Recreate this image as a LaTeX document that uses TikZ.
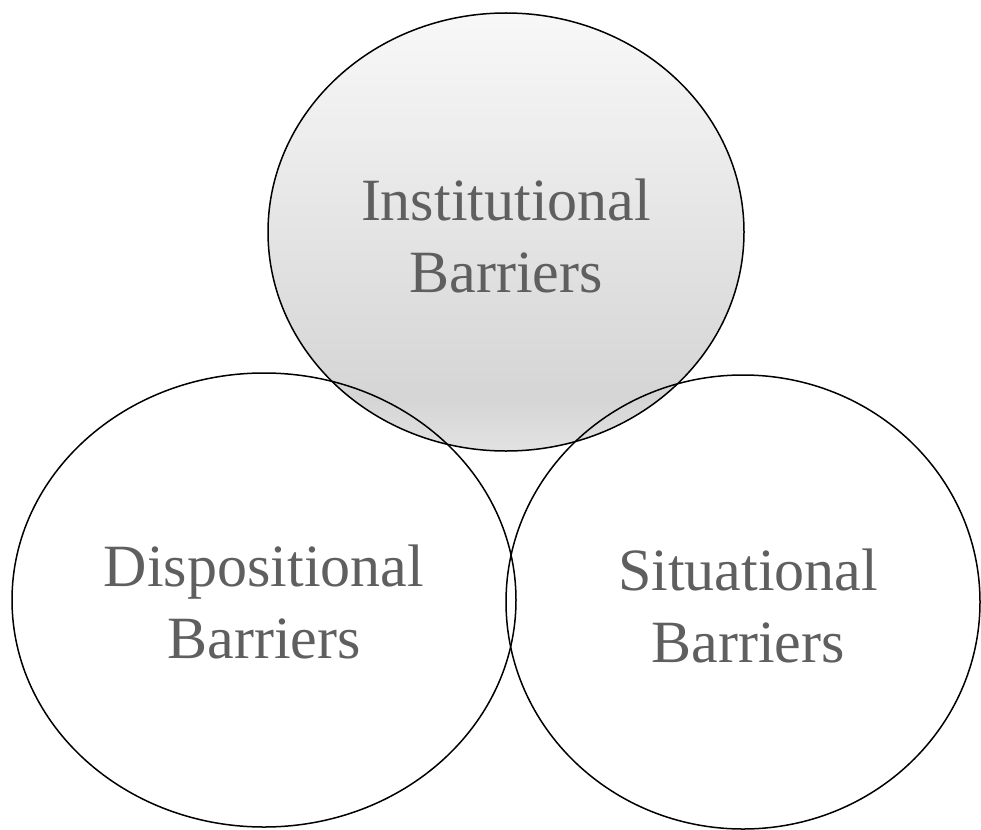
\documentclass[tikz,border=0pt]{standalone}
\usepackage{fontspec}
\setmainfont{Liberation Serif}
\definecolor{txtgray}{HTML}{5F5F5F}
\definecolor{shA}{HTML}{E2E2E2}
\definecolor{shB}{HTML}{D5D5D5}
\definecolor{shC}{HTML}{F8F8F8}
\pgfdeclareverticalshading{instshade}{100bp}{color(0bp)=(shA); color(25bp)=(shA); color(31bp)=(shB); color(75bp)=(shC); color(100bp)=(shC)}
\begin{document}
\begin{tikzpicture}[x=1pt,y=-1pt,
  ring/.style={draw=black,line width=1.5pt},
  lbl/.style={text=txtgray,align=center,inner sep=0pt,font=\fontsize{60}{72}\selectfont}]
\useasboundingbox (0,0) rectangle (981,829);
\shade[shading=instshade,ring] (506,232) ellipse [x radius=238, y radius=219];
\draw[ring] (264,600) ellipse [x radius=252, y radius=227];
\draw[ring] (743,602) ellipse [x radius=237, y radius=227];
\node[lbl] (inst) at (506,235.5) {Institutional\\Barriers};
\node[lbl] (disp) at (264,601.5) {Dispositional\\Barriers};
\node[lbl] (situ) at (748,605.5) {Situational\\Barriers};
\end{tikzpicture}
\end{document}
